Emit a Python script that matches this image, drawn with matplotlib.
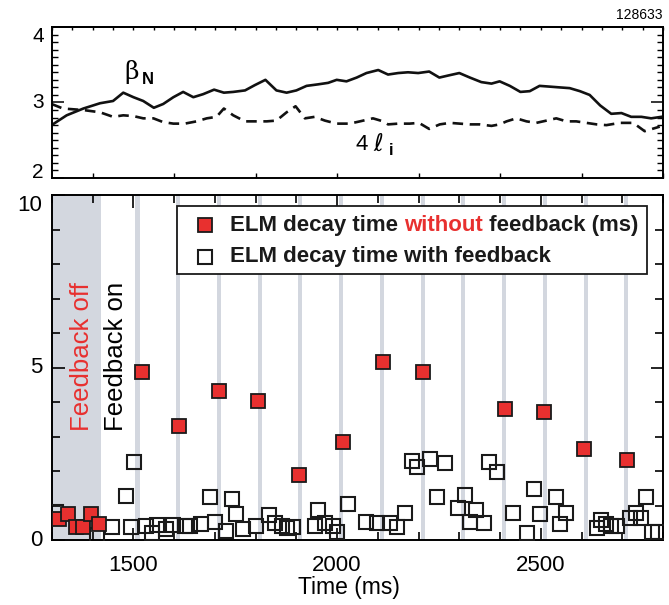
import numpy as np
import matplotlib.pyplot as plt
from matplotlib.patches import Rectangle

plt.rcParams['font.family'] = ['Liberation Sans', 'DejaVu Sans']

# top panel: betaN and 4*li vs time
bn_t = [1299, 1336, 1377, 1418, 1450, 1475, 1500, 1524, 1550, 1573, 1598, 1622, 1647,
        1671, 1698, 1722, 1745, 1774, 1798, 1824, 1851, 1876, 1900, 1925, 1953, 1978,
        1999, 2023, 2048, 2072, 2101, 2125, 2150, 2174, 2199, 2226, 2251, 2275, 2300,
        2326, 2354, 2379, 2399, 2424, 2450, 2473, 2497, 2522, 2546, 2571, 2596, 2620,
        2646, 2673, 2698, 2722, 2747, 2771, 2796]
bn = [2.70, 2.83, 2.92, 2.99, 3.02, 3.13, 3.07, 3.02, 2.93, 2.98, 3.07, 3.14, 3.07,
      3.11, 3.17, 3.13, 3.14, 3.16, 3.23, 3.30, 3.16, 3.13, 3.16, 3.22, 3.24, 3.26,
      3.30, 3.28, 3.33, 3.39, 3.43, 3.37, 3.39, 3.40, 3.39, 3.41, 3.33, 3.36, 3.39,
      3.33, 3.27, 3.25, 3.28, 3.22, 3.14, 3.15, 3.22, 3.21, 3.20, 3.19, 3.15, 3.10,
      2.96, 2.85, 2.86, 2.81, 2.81, 2.79, 2.81]

li_t = [1299, 1327, 1377, 1418, 1450, 1475, 1500, 1524, 1549, 1573, 1598, 1626, 1655,
        1680, 1704, 1722, 1745, 1774, 1798, 1827, 1851, 1876, 1898, 1921, 1945, 1970,
        1999, 2031, 2056, 2088, 2113, 2125, 2150, 2178, 2201, 2226, 2252, 2277, 2301,
        2326, 2350, 2379, 2399, 2416, 2440, 2465, 2489, 2514, 2538, 2563, 2587, 2612,
        2637, 2661, 2694, 2727, 2755, 2792]
li4 = [2.98, 2.92, 2.90, 2.87, 2.81, 2.83, 2.82, 2.79, 2.79, 2.74, 2.72, 2.72, 2.75,
       2.79, 2.81, 2.92, 2.83, 2.75, 2.75, 2.75, 2.76, 2.87, 2.95, 2.79, 2.81, 2.76,
       2.72, 2.72, 2.75, 2.79, 2.75, 2.71, 2.72, 2.72, 2.73, 2.65, 2.71, 2.73, 2.72,
       2.71, 2.71, 2.69, 2.71, 2.75, 2.79, 2.75, 2.73, 2.76, 2.79, 2.75, 2.75, 2.73,
       2.71, 2.70, 2.73, 2.73, 2.62, 2.68]

# bottom panel: ELM decay times
off_t = [1317, 1340, 1359, 1375, 1396, 1415]
off_tau = [0.61, 0.74, 0.39, 0.39, 0.74, 0.46]

nofb_t = [1520, 1612, 1711, 1805, 1907, 2014, 2113, 2210, 2413, 2509, 2606, 2712]
nofb_tau = [4.86, 3.31, 4.32, 4.04, 1.88, 2.84, 5.17, 4.87, 3.80, 3.72, 2.63, 2.32]

fb_t = [1311, 1410, 1447, 1481, 1494, 1502, 1532, 1545, 1557, 1581, 1598, 1626, 1639,
        1667, 1688, 1700, 1727, 1741, 1752, 1769, 1801, 1833, 1847, 1864, 1876, 1892,
        1945, 1953, 1970, 1990, 1999, 2027, 2071, 2097, 2129, 2148, 2166, 2185, 2195,
        2228, 2246, 2264, 2297, 2313, 2326, 2342, 2360, 2373, 2393, 2432, 2465, 2483,
        2499, 2537, 2548, 2561, 2637, 2649, 2661, 2673, 2686, 2718, 2733, 2747, 2759,
        2772, 2788]
fb_tau = [0.82, 0.14, 0.38, 1.28, 0.39, 2.27, 0.41, 0.19, 0.43, 0.31, 0.43, 0.41, 0.41,
          0.46, 1.26, 0.53, 0.26, 1.19, 0.74, 0.31, 0.41, 0.72, 0.48, 0.41, 0.36, 0.39,
          0.41, 0.87, 0.48, 0.41, 0.24, 1.04, 0.53, 0.48, 0.48, 0.37, 0.79, 2.30, 2.12,
          2.34, 1.24, 2.22, 0.92, 1.30, 0.53, 0.87, 0.50, 2.27, 1.98, 0.79, 0.19, 1.47,
          0.75, 1.26, 0.46, 0.77, 0.34, 0.58, 0.46, 0.41, 0.41, 0.63, 0.77, 0.63, 1.26,
          0.24, 0.24]

# times of the feedback-off windows (grey stripes)
pulse_start = np.arange(1505, 2706, 100)
pulse_len = 10
off_end = 1420

red = '#e8302f'
grey = '#d3d7df'

fig = plt.figure(figsize=(6.69, 6.05), dpi=100)
ax1 = fig.add_axes([0.0777, 0.7058, 0.9133, 0.2496])
ax2 = fig.add_axes([0.0777, 0.1074, 0.9133, 0.5702])

# ---- top panel
ax1.plot(bn_t, bn, color='#111111', lw=1.9)
ax1.plot(li_t, li4, color='#111111', lw=1.9, dashes=(4, 2.5))
ax1.set_xlim(1300, 2800)
ax1.set_ylim(2, 4)
ax1.set_yticks([2, 3, 4])
ax1.set_yticks(np.arange(2, 4.01, 0.1), minor=True)
ax1.set_xticks(np.arange(1400, 2801, 200))
ax1.set_xticks([], minor=True)
ax1.tick_params(axis='y', which='major', direction='in', length=8.5, width=1.1,
                left=True, right=True, labelsize=15, pad=6)
ax1.tick_params(axis='y', which='minor', direction='in', length=4.5, width=1.0,
                left=True, right=True)
ax1.tick_params(axis='x', which='major', direction='in', length=3.5, width=1.0,
                labelbottom=False)
for lbl, va in zip(ax1.get_yticklabels(), ['baseline', 'center', 'top']):
    lbl.set_va(va)
sec = ax1.secondary_xaxis('top')
sec.set_xticks(np.arange(1300, 2801, 50))
sec.tick_params(direction='in', length=2.2, width=1.0, labeltop=False)
for sp in list(ax1.spines.values()) + [sec.spines['top']]:
    sp.set_linewidth(1.4)

# curve labels
ax1.text(1478, 3.40, 'β', fontsize=18, va='center', ha='left', family='DejaVu Serif')
ax1.text(1521, 3.30, 'N', fontsize=12, fontweight='bold', va='center', ha='left')
ax1.text(2046, 2.44, '4', fontsize=16, va='center', ha='left')
ax1.text(2090, 2.45, 'ℓ', fontsize=17, va='center', ha='left',
         family='DejaVu Sans', style='italic')
ax1.text(2127, 2.36, 'i', fontsize=12, fontweight='bold', va='center', ha='left')
fig.text(0.991, 0.975, '128633', fontsize=10, ha='right', va='center')

# ---- bottom panel
ax2.axvspan(1300, off_end, color=grey, lw=0, zorder=0)
for t0 in pulse_start:
    ax2.axvspan(t0, t0 + pulse_len, color=grey, lw=0, zorder=0)

ax2.plot(fb_t, fb_tau, ls='none', marker='s', ms=9.5, mfc='none', mec='#1a1a1a',
         mew=1.5, zorder=3)
ax2.plot(off_t, off_tau, ls='none', marker='s', ms=9.5, mfc=red, mec='#1a1a1a',
         mew=1.3, zorder=4)
ax2.plot(nofb_t, nofb_tau, ls='none', marker='s', ms=9.5, mfc=red, mec='#1a1a1a',
         mew=1.3, zorder=4)

ax2.set_xlim(1300, 2800)
ax2.set_ylim(0, 10)
ax2.set_xticks([1500, 2000, 2500])
ax2.set_xticks(np.arange(1300, 2801, 100), minor=True)
ax2.set_yticks([0, 5, 10])
ax2.set_yticks(np.arange(0, 11, 1), minor=True)
ax2.tick_params(axis='both', which='major', direction='in', length=9, width=1.2,
                top=True, right=True, labelsize=16)
ax2.tick_params(axis='x', which='major', pad=11)
ax2.tick_params(axis='y', which='major', pad=7)
ax2.tick_params(axis='both', which='minor', direction='in', length=5.5, width=1.2,
                top=True, right=True)
for lbl, va in zip(ax2.get_yticklabels(), ['center', 'center', 'top']):
    lbl.set_va(va)
for sp in ax2.spines.values():
    sp.set_linewidth(1.4)
ax2.set_xlabel('Time (ms)', fontsize=16.5)
ax2.xaxis.set_label_coords(0.486, -0.105)

ax2.text(1374, 5.33, 'Feedback off', color=red, rotation=90, fontsize=18.5,
         ha='center', va='center')
ax2.text(1457, 5.33, 'Feedback on', color='black', rotation=90, fontsize=18.5,
         ha='center', va='center')

# legend drawn by hand to colour one word
ax2.add_patch(Rectangle((0.2046, 0.771), 0.7692, 0.197, transform=ax2.transAxes,
                        facecolor='white', edgecolor='#1a1a1a', lw=1.3, zorder=5))
ax2.plot([0.2504], [0.913], transform=ax2.transAxes, marker='s', ms=10, mfc=red,
         mec='#1a1a1a', mew=1.3, zorder=6)
ax2.plot([0.2504], [0.821], transform=ax2.transAxes, marker='s', ms=10, mfc='none',
         mec='#1a1a1a', mew=1.5, zorder=6)
lkw = dict(fontsize=16, fontweight='bold', va='center', zorder=6)
t1 = ax2.text(0.2913, 0.913, 'ELM decay time ', transform=ax2.transAxes,
              color='#1a1a1a', **lkw)
t2 = ax2.annotate('without', xy=(1, 0), xycoords=t1, va='bottom', color=red,
                  fontsize=16, fontweight='bold', zorder=6)
ax2.annotate(' feedback (ms)', xy=(1, 0), xycoords=t2, va='bottom',
             color='#1a1a1a', fontsize=16, fontweight='bold', zorder=6)
ax2.text(0.2913, 0.821, 'ELM decay time with feedback', transform=ax2.transAxes,
         color='#1a1a1a', **lkw)

fig.savefig('out.png', dpi=100)
